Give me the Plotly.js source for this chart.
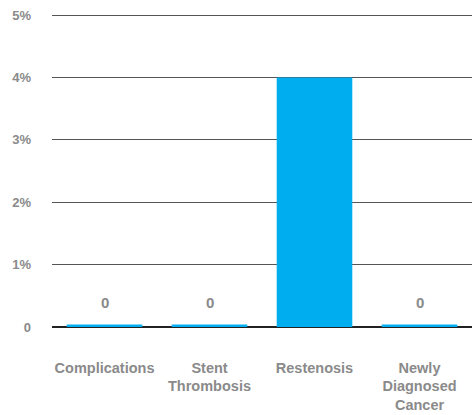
<!DOCTYPE html>
<html><head><meta charset="utf-8">
<script src="https://cdn.plot.ly/plotly-3.0.1.min.js"></script>
<style>html,body{margin:0;padding:0;background:#fff}#c{width:472px;height:415px}</style>
</head><body><div id="c"></div>
<script>
var categories = ["Complications", "Stent<br>Thrombosis", "Restenosis", "Newly<br>Diagnosed<br>Cancer"];
var values = [0.04, 0.04, 4, 0.04];
var valueLabels = ["0", "0", "", "0"];
var tickValues = [0, 1, 2, 3, 4, 5];
var tickLabels = ["0", "1%", "2%", "3%", "4%", "5%"];

var font = "Liberation Sans, Arial, sans-serif";
var annotations = categories.map(function(c, i){
  return {x: c, y: values[i], text: valueLabels[i], showarrow: false, yshift: 22,
    font: {family: font, size: 15, color: "#8a8a8a", weight: 700}};
});

Plotly.newPlot("c", [{
  type: "bar", x: categories, y: values,
  marker: {color: "#00AEEF"}, hoverinfo: "none"
}], {
  width: 472, height: 415,
  margin: {l: 52, r: 0, t: 12, b: 88},
  paper_bgcolor: "#fff", plot_bgcolor: "#fff",
  bargap: 0.28,
  showlegend: false,
  xaxis: {
    showgrid: false, showline: false, zeroline: false, ticks: "",
    ticklabelstandoff: 30,
    tickfont: {family: font, size: 14.5, color: "#8a8a8a", weight: 700}
  },
  yaxis: {
    range: [0, 5.05], tickvals: tickValues, ticktext: tickLabels,
    showgrid: true, gridcolor: "#555", gridwidth: 1,
    zeroline: true, zerolinecolor: "#222", zerolinewidth: 2.5,
    showline: false, ticks: "", ticklabelstandoff: 20,
    tickfont: {family: font, size: 13, color: "#8a8a8a", weight: 700}
  },
  annotations: annotations
}, {displayModeBar: false, staticPlot: true});
</script></body></html>
